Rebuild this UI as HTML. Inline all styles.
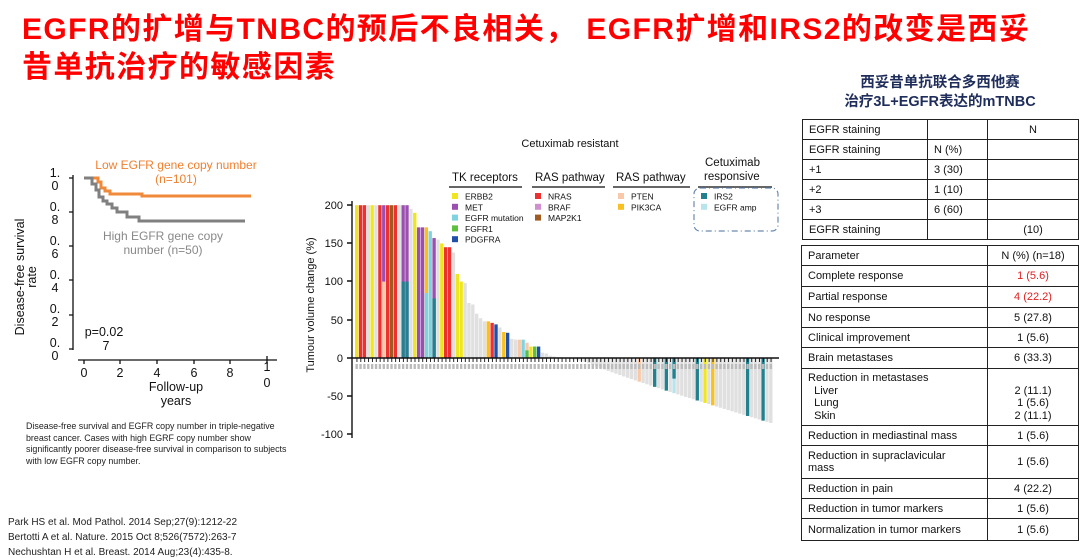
<!DOCTYPE html>
<html><head><meta charset="utf-8"><style>
body{margin:0;width:1080px;height:558px;background:#fff;position:relative;overflow:hidden;font-family:"Liberation Sans","Noto Sans CJK SC",sans-serif}
.t{position:absolute;left:22px;color:#f00;font-weight:bold;font-size:30px;letter-spacing:1.4px;line-height:38px;white-space:nowrap}
.sub{position:absolute;left:800px;width:280px;text-align:center;color:#1f2d5a;font-weight:bold;font-size:14.5px;line-height:19px}
table{position:absolute;border-collapse:collapse;font-size:11px;color:#111}
td{border:1.5px solid #222;padding:0 6px;height:18px}
.c{text-align:center}
.r{color:#e02020}
.ref{position:absolute;left:8px;font-size:10px;color:#222}
.cap{position:absolute;left:26px;top:421px;font-size:8.9px;line-height:11.5px;color:#222;width:262px}
</style></head><body>
<div class="t" style="top:11px">EGFR的扩增与TNBC的预后不良相关， EGFR扩增和IRS2的改变是西妥</div>
<div class="t" style="top:49px">昔单抗治疗的敏感因素</div>
<div class="sub" style="top:74px">西妥昔单抗联合多西他赛<br>治疗3L+EGFR表达的mTNBC</div>

<svg width="1080" height="558" style="position:absolute;left:0;top:0" font-family="Liberation Sans, sans-serif">
<g stroke="#111" stroke-width="1.3" fill="none">
<path d="M73,175V350"/><path d="M73,178h-4M73,212h-4M73,246h-4M73,280h-4M73,315h-4M73,349h-4"/>
<path d="M78,360H277"/><path d="M84,360v4M120,360v4M157,360v4M194,360v4M230,360v4M267,360v4M267,360v-4"/>
</g>
<g font-size="12.5" fill="#111" text-anchor="middle">
<text x="55" y="177">1.</text><text x="55" y="190">0</text>
<text x="55" y="211">0.</text><text x="55" y="224">8</text>
<text x="55" y="245">0.</text><text x="55" y="258">6</text>
<text x="55" y="279">0.</text><text x="55" y="292">4</text>
<text x="55" y="313">0.</text><text x="55" y="326">2</text>
<text x="55" y="347">0.</text><text x="55" y="360">0</text>
<text x="84" y="377">0</text><text x="120" y="377">2</text><text x="157" y="377">4</text><text x="194" y="377">6</text><text x="230" y="377">8</text>
<text x="267" y="371">1</text><text x="267" y="387">0</text>
<text x="176" y="391">Follow-up</text><text x="176" y="405">years</text>
<text x="104" y="336">p=0.02</text><text x="106" y="350">7</text>
<text transform="translate(24,277) rotate(-90)">Disease-free survival</text>
<text transform="translate(36,277) rotate(-90)">rate</text>
</g>
<text x="176" y="169" font-size="12" fill="#f08030" text-anchor="middle">Low EGFR gene copy number</text>
<text x="176" y="183" font-size="12" fill="#f08030" text-anchor="middle">(n=101)</text>
<text x="163" y="240" font-size="12" fill="#888" text-anchor="middle">High EGFR gene copy</text>
<text x="163" y="254" font-size="12" fill="#888" text-anchor="middle">number (n=50)</text>
<path d="M84,178H98V182H101V188H105V191H110V194H142V196H251" stroke="#f08a3a" stroke-width="3" fill="none"/>
<path d="M84,178H92V184H96V190H99V197H103V201H107V204H112V208H117V212H127V217H139V221H245" stroke="#808080" stroke-width="3" fill="none"/>

<text x="570" y="147" font-size="11" text-anchor="middle" fill="#111">Cetuximab resistant</text>
<g font-size="11.5" fill="#111">
<text x="452" y="181">TK receptors</text><text x="535" y="181">RAS pathway</text><text x="616" y="181">RAS pathway</text>
<text x="705" y="166">Cetuximab</text><text x="704" y="180">responsive</text>
</g>
<g stroke="#333" stroke-width="1.6"><path d="M449,187H522M532,187H605M613,187H690M698,187H772"/></g>
<rect x="694" y="188" width="84" height="43" rx="6" fill="none" stroke="#6a8ab0" stroke-width="1.2" stroke-dasharray="6,3,1,3"/>
<g font-size="8.5" fill="#111" id="leg"></g>
<g id="bars"></g>
<g stroke="#111" stroke-width="1.4" fill="none"><path d="M352,201V438"/><path d="M352,205h-5M352,243h-5M352,281h-5M352,320h-5M352,358h-5M352,396h-5M352,434h-5"/><path d="M352,358H779"/></g>
<g id="ticks" stroke="#111" stroke-width="0.9"></g>
<g font-size="11" fill="#111" text-anchor="end">
<text x="343" y="209">200</text><text x="343" y="247">150</text><text x="343" y="285">100</text><text x="343" y="324">50</text><text x="343" y="362">0</text><text x="343" y="400">-50</text><text x="343" y="438">-100</text>
</g>
<text transform="translate(314,305) rotate(-90)" font-size="11" fill="#111" text-anchor="middle">Tumour volume change (%)</text>
</svg>

<div class="cap">Disease-free survival and EGFR copy number in triple-negative breast cancer. Cases with high EGRF copy number show significantly poorer disease-free survival in comparison to subjects with low EGFR copy number.</div>
<div class="ref" style="top:517px">Park HS et al. Mod Pathol. 2014 Sep;27(9):1212-22</div>
<div class="ref" style="top:532px">Bertotti A et al. Nature. 2015 Oct 8;526(7572):263-7</div>
<div class="ref" style="top:547px">Nechushtan H et al. Breast. 2014 Aug;23(4):435-8.</div>

<table style="left:802px;top:119px;width:277px">
<tr><td style="width:112px;height:19px">EGFR staining</td><td style="width:47px"></td><td class="c">N</td></tr>
<tr><td style="height:19px">EGFR staining</td><td>N (%)</td><td></td></tr>
<tr><td style="height:19px">+1</td><td>3 (30)</td><td></td></tr>
<tr><td style="height:19px">+2</td><td>1 (10)</td><td></td></tr>
<tr><td style="height:19px">+3</td><td>6 (60)</td><td></td></tr>
<tr><td style="height:19px">EGFR staining</td><td></td><td class="c">(10)</td></tr>
</table>
<table style="left:801px;top:245px;width:278px">
<tr><td style="width:173px;height:19px">Parameter</td><td class="c">N (%) (n=18)</td></tr>
<tr><td style="height:20px">Complete response</td><td class="c r">1 (5.6)</td></tr>
<tr><td style="height:20px">Partial response</td><td class="c r">4 (22.2)</td></tr>
<tr><td style="height:19px">No response</td><td class="c">5 (27.8)</td></tr>
<tr><td style="height:19px">Clinical improvement</td><td class="c">1 (5.6)</td></tr>
<tr><td style="height:20px">Brain metastases</td><td class="c">6 (33.3)</td></tr>
<tr><td style="height:56px;line-height:12.5px">Reduction in metastases<br>&nbsp;&nbsp;Liver<br>&nbsp;&nbsp;Lung<br>&nbsp;&nbsp;Skin</td><td class="c" style="line-height:12.5px"><br>2 (11.1)<br>1 (5.6)<br>2 (11.1)</td></tr>
<tr><td style="height:19px">Reduction in mediastinal mass</td><td class="c">1 (5.6)</td></tr>
<tr><td style="height:32px;line-height:12.5px">Reduction in supraclavicular<br>mass</td><td class="c">1 (5.6)</td></tr>
<tr><td style="height:19px">Reduction in pain</td><td class="c">4 (22.2)</td></tr>
<tr><td style="height:19px">Reduction in tumor markers</td><td class="c">1 (5.6)</td></tr>
<tr><td style="height:21px">Normalization in tumor markers</td><td class="c">1 (5.6)</td></tr>
</table>

<script>
var NS="http://www.w3.org/2000/svg";
function el(p,t,a,txt){var e=document.createElementNS(NS,t);for(var k in a)e.setAttribute(k,a[k]);if(txt)e.textContent=txt;p.appendChild(e);return e;}
var C={Y:"#f0e620",P:"#9b4fb0",L:"#7fd3e0",G:"#5cbf40",B:"#1f4fa8",R:"#ee3030",V:"#d090d0",M:"#a05a20",K:"#f8c8a8",O:"#f8c020",T:"#22808f",E:"#b8e4ec",g:"#e0e0e0"};
var leg=document.getElementById("leg");
[[452,"Y","ERBB2"],[452,"P","MET"],[452,"L","EGFR mutation"],[452,"G","FGFR1"],[452,"B","PDGFRA"]].forEach(function(d,i){el(leg,"rect",{x:d[0],y:193+i*10.8,width:6,height:6,fill:C[d[1]]});el(leg,"text",{x:d[0]+13,y:199.5+i*10.8},d[2]);});
[["R","NRAS"],["V","BRAF"],["M","MAP2K1"]].forEach(function(d,i){el(leg,"rect",{x:535,y:193+i*10.8,width:6,height:6,fill:C[d[0]]});el(leg,"text",{x:548,y:199.5+i*10.8},d[1]);});
[["K","PTEN"],["O","PIK3CA"]].forEach(function(d,i){el(leg,"rect",{x:618,y:193+i*10.8,width:6,height:6,fill:C[d[0]]});el(leg,"text",{x:631,y:199.5+i*10.8},d[1]);});
[["T","IRS2"],["E","EGFR amp"]].forEach(function(d,i){el(leg,"rect",{x:701,y:193+i*10.8,width:6,height:6,fill:C[d[0]]});el(leg,"text",{x:714,y:199.5+i*10.8},d[1]);});
var pos=[[200,"Y"],[200,"R"],[200,"R"],[200,"g"],[200,"Y"],[200,"g"],[200,"R"],[200,"P",100,"K"],[200,"R"],[200,"M"],[200,"R"],[200,"g"],[200,"P",100,"T"],[200,"P",100,"T"],[195,"g"],[190,"Y"],[171,"P"],[171,"P"],[171,"O",85,"L"],[166,"L"],[157,"P",78,"T"],[155,"g"],[150,"Y"],[145,"R"],[145,"R"],[138,"g"],[110,"Y"],[100,"Y"],[98,"g"],[72,"g"],[70,"g"],[58,"g"],[52,"g"],[48,"g"],[48,"O"],[46,"R"],[44,"B"],[40,"g"],[34,"O"],[33,"B"],[25,"g"],[24,"g"],[24,"K"],[24,"L"],[20,"K",10,"G"],[15,"Y"],[15,"G"],[15,"B"],[7,"g"],[6,"g"],[3,"g"],[2,"g"],[1,"g"],[1,"g"]];
var N=108,w=(773-355)/N,vals=[];
for(var i=0;i<N;i++){if(i<pos.length)vals.push(pos[i]);else{var t=(i-pos.length)/(N-1-pos.length);var v=-(t<0.1?t*50:5+80*Math.pow((t-0.1)/0.9,0.9));vals.push([v,"g"]);}}
var neg={73:"K",77:"T",80:"T",88:"T",90:"Y",92:"O",101:"T",105:"T"};
vals[82]=[vals[82][0],"E",-27,"T"];
for(var k in neg){vals[k]=[vals[k][0],neg[k]];}
var bars=document.getElementById("bars"),ticks=document.getElementById("ticks"),s=38.2/50;
vals.forEach(function(d,i){var x=355+i*w,v=d[0];
 var y=v>=0?358-v*s:358,h=Math.abs(v)*s;
 el(bars,"rect",{x:x,y:y,width:w-0.5,height:h,fill:C[d[1]]});
 if(d[2]!==undefined){var v2=d[2];if(v2>=0)el(bars,"rect",{x:x,y:358-v2*s,width:w-0.5,height:v2*s,fill:C[d[3]]});else el(bars,"rect",{x:x,y:358,width:w-0.5,height:-v2*s,fill:C[d[3]]});}
 el(ticks,"line",{x1:x+w/2,y1:358,x2:x+w/2,y2:362});
 el(bars,"rect",{x:x+0.5,y:364,width:w-1.5,height:5,fill:"#bbb"});
});
</script>
</body></html>
